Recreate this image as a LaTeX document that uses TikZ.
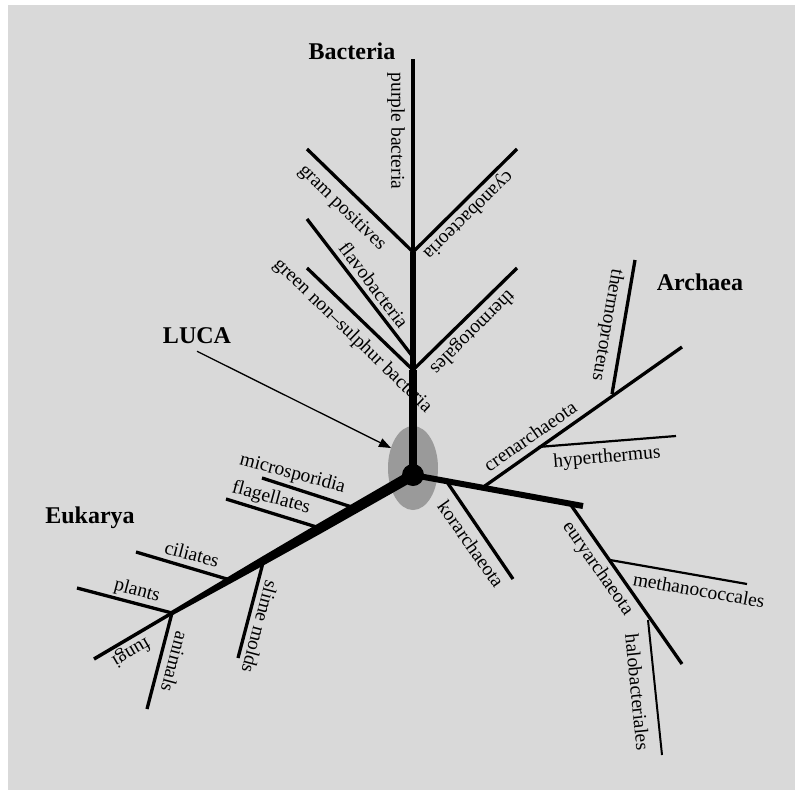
\documentclass[tikz,border=0pt]{standalone}
\usepackage{fontspec}
\setmainfont{Liberation Serif}
\usetikzlibrary{calc,arrows.meta}
\definecolor{bgcol}{HTML}{D9D9D9}
\definecolor{lucagray}{HTML}{9A9A9A}
\begin{document}
\begin{tikzpicture}[x=1pt,y=-1pt,
  br/.style={line width=3.3pt},
  fine/.style={line width=2.2pt},
  lab/.style={font=\fontsize{19.5}{22}\selectfont, inner sep=0pt},
  head/.style={font=\fontsize{24}{28}\selectfont\bfseries, inner sep=0pt}]
\useasboundingbox (0,0) rectangle (795,790);
\fill[bgcol] (8,5) rectangle (795,790);
% LUCA region
\fill[lucagray] (413,468) ellipse [x radius=25pt, y radius=42pt];
\coordinate (L) at (413,475);
% ---------- Bacteria
\coordinate (bTop) at (413,59);
\coordinate (bJ1) at (413,252);
\coordinate (bJ2) at (413,357);
\coordinate (bJ3) at (413,370);
\coordinate (gram) at (307,149);
\coordinate (cyano) at (517,149);
\coordinate (flavo) at (307,219);
\coordinate (green) at (307,268);
\coordinate (thermo) at (517,268);
\draw[line width=7.5pt] (L) -- (bJ3);
\draw[line width=6.5pt] (bJ3) -- (bJ1);
\draw[br] (bJ1) -- (bTop);
\draw[br] (bJ1) -- (gram);
\draw[br] (bJ1) -- (cyano);
\draw[br] (bJ2) -- (flavo);
\draw[br] (bJ3) -- (green);
\draw[br] (bJ3) -- (thermo);
% ---------- Archaea
\coordinate (aEnd) at (583,506);
\coordinate (aCren) at (482,488);
\coordinate (aKor) at (447,482);
\coordinate (aEury) at (570,503.7);
\coordinate (crenEnd) at (682,347);
\coordinate (tpJ) at (612,394);
\coordinate (tpEnd) at (635,260);
\coordinate (hyJ) at (538,447);
\coordinate (hyEnd) at (676,436);
\coordinate (korEnd) at (513,579);
\coordinate (euryEnd) at (682,664);
\coordinate (meJ) at (610,560);
\coordinate (meEnd) at (747,584);
\coordinate (haJ) at (648,620);
\coordinate (haEnd) at (662,755);
\draw[line width=6pt] (L) -- (aEnd);
\draw[br] (aCren) -- (crenEnd);
\draw[br] (tpJ) -- (tpEnd);
\draw[fine] (hyJ) -- (hyEnd);
\draw[br] (aKor) -- (korEnd);
\draw[br] (aEury) -- (euryEnd);
\draw[fine] (meJ) -- (meEnd);
\draw[line width=2pt] (haJ) -- (haEnd);
% ---------- Eukarya
\coordinate (eP) at (172,613);
\coordinate (eMic) at ($(L)!0.24!(eP)$);
\coordinate (eFla) at ($(L)!0.385!(eP)$);
\coordinate (eSli) at ($(L)!0.62!(eP)$);
\coordinate (eCil) at ($(L)!0.76!(eP)$);
\coordinate (micEnd) at (262,478);
\coordinate (flaEnd) at (226,499);
\coordinate (cilEnd) at (136,552);
\coordinate (sliEnd) at (238,658);
\coordinate (plaEnd) at (77,588);
\coordinate (aniEnd) at (147,709);
\coordinate (funEnd) at (94,659);
\fill ($(L)!5.5pt!90:(eP)$) -- ($(eFla)!5pt!90:(eP)$) -- ($(eSli)!4.2pt!90:(eP)$)
  -- ($(eCil)!3.5pt!90:(eP)$) -- ($(eP)!2.2pt!-90:(L)$)
  -- ($(eP)!2.2pt!90:(L)$) -- ($(eCil)!3.5pt!-90:(eP)$) -- ($(eSli)!4.2pt!-90:(eP)$)
  -- ($(eFla)!5pt!-90:(eP)$) -- ($(L)!5.5pt!-90:(eP)$) -- cycle;
\draw[line width=3.5pt] (eP) -- (funEnd);
\draw[br] (eMic) -- (micEnd);
\draw[br] (eFla) -- (flaEnd);
\draw[br] (eCil) -- (cilEnd);
\draw[br] (eSli) -- (sliEnd);
\draw[br] (eP) -- (plaEnd);
\draw[br] (eP) -- (aniEnd);
% LUCA dot
\fill (L) circle [radius=11pt];
% ---------- labels
\node[lab, rotate=-90] (lPurple) at (396,131) {purple bacteria};
\node[lab, rotate=-44.4] (lGram) at (342,208) {gram positives};
\node[lab, rotate=-135.6] (lCyano) at (468,215) {cyanobacteoria};
\node[lab, rotate=-52.8] (lFlavo) at (374,285) {flavobacteria};
\node[lab, rotate=-44] (lGreen) at (352.5,336) {green non–sulphur bacteria};
\node[lab, rotate=-135.3] (lThermo) at (472,332) {thermotogales};
\node[lab, rotate=-100] (lTp) at (607,325) {thermoproteus};
\node[lab, rotate=34.7] (lCren) at (530,436) {crenarchaeota};
\node[lab, rotate=4.8] (lHy) at (607,458) {hyperthermus};
\node[lab, rotate=-54.8] (lKor) at (471,544) {korarchaeota};
\node[lab, rotate=-55] (lEury) at (597.5,569) {euryarchaeota};
\node[lab, rotate=-10] (lMeth) at (699,590) {methanococcales};
\node[lab, rotate=-84.3] (lHalo) at (637.5,692) {halobacteriales};
\node[lab, rotate=-15] (lMic) at (292.5,474) {microsporidia};
\node[lab, rotate=-15] (lFla) at (271,498) {flagellates};
\node[lab, rotate=-15] (lCil) at (192,554) {ciliates};
\node[lab, rotate=-15] (lPla) at (137,591) {plants};
\node[lab, rotate=-149.8] (lFun) at (131,652) {fungi};
\node[lab, rotate=-105] (lAni) at (175,662) {animals};
\node[lab, rotate=-105] (lSli) at (260,627) {slime molds};
\node[head] (hBac) at (352,51) {Bacteria};
\node[head] (hArc) at (700,282) {Archaea};
\node[head] (hLuca) at (197,336) {LUCA};
\node[head] (hEuk) at (90,518) {Eukarya};
% LUCA arrow
\coordinate (arrTip) at (391,448);
\draw[line width=1.3pt, -{Triangle[length=12pt,width=9pt]}] ($(hLuca.south)+(0,7)$) -- (arrTip);
\end{tikzpicture}
\end{document}
